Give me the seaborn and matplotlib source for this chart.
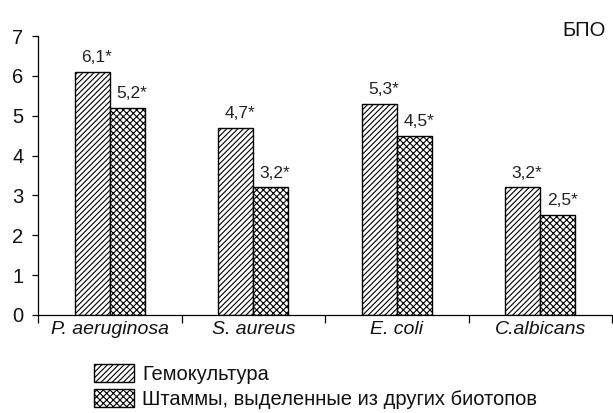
import seaborn as sns
import matplotlib.pyplot as plt
import pandas as pd
from matplotlib.patches import Patch

# данные с картинки
organisms = ["P. aeruginosa", "S. aureus", "E. coli", "C.albicans"]
groups = ["Гемокультура", "Штаммы, выделенные из других биотопов"]
hemo = [6.1, 4.7, 5.3, 3.2]
other = [5.2, 3.2, 4.5, 2.5]
labels_hemo = ["6,1*", "4,7*", "5,3*", "3,2*"]
labels_other = ["5,2*", "3,2*", "4,5*", "2,5*"]
hatches = ["//////", "xxxxx"]

df = pd.DataFrame({
    "org": organisms * 2,
    "grp": [groups[0]] * 4 + [groups[1]] * 4,
    "val": hemo + other,
})

sns.set_style("white")
plt.rcParams["font.family"] = ["Liberation Sans", "DejaVu Sans"]
plt.rcParams["hatch.linewidth"] = 0.8

fig = plt.figure(figsize=(6.13, 4.13), dpi=100)
ax = fig.add_axes([38 / 613, (413 - 315) / 413, (612 - 38) / 613, (315 - 36) / 413])

sns.barplot(data=df, x="org", y="val", hue="grp", width=0.49, gap=0,
            palette=["white", "white"], edgecolor="black", linewidth=1.0,
            legend=False, ax=ax)

for cont, h in zip(ax.containers, hatches):
    for bar in cont:
        bar.set_hatch(h)

for cont, labs in zip(ax.containers, [labels_hemo, labels_other]):
    for bar, lab in zip(cont, labs):
        ax.annotate(lab, (bar.get_x() + bar.get_width() / 2 + 0.03, bar.get_height()),
                    xytext=(0, 5), textcoords="offset points",
                    ha="center", va="bottom", fontsize=12.5, color="#222222")

ax.set_xlim(-0.5, 3.5)
ax.set_ylim(0, 7)
ax.set_yticks(range(8))
ax.set_xlabel("")
ax.set_ylabel("")
ax.set_xticks([-0.5, 0.5, 1.5, 2.5, 3.5], minor=True)
ax.tick_params(axis="x", which="major", bottom=False, length=0, pad=4, labelsize=14,
               labelcolor="#111111")
ax.tick_params(axis="x", which="minor", bottom=True, length=6, width=0.9, color="black",
               direction="out")
ax.tick_params(axis="y", left=True, length=4.5, width=0.9, color="black", direction="out",
               pad=6, labelsize=14.5, labelcolor="#111111")
for lab in ax.get_xticklabels():
    lab.set_style("italic")

sns.despine(ax=ax)
for s in ["left", "bottom"]:
    ax.spines[s].set_color("black")
    ax.spines[s].set_linewidth(0.9)
ax.set_facecolor("white")

fig.text(606 / 613, (413 - 30) / 413, "БПО", ha="right", va="center", fontsize=14.5,
         color="#111111")

handles = [Patch(facecolor="white", edgecolor="black", hatch=h, linewidth=1.0) for h in hatches]
fig.legend(handles, groups, loc="upper left", bbox_to_anchor=(94 / 613, (413 - 364) / 413),
           frameon=False, fontsize=14.5, handlelength=2.0, handleheight=1.0,
           handletextpad=0.4, labelspacing=0.25, borderpad=0, borderaxespad=0,
           labelcolor="#111111")

plt.savefig("out.png", dpi=100)
